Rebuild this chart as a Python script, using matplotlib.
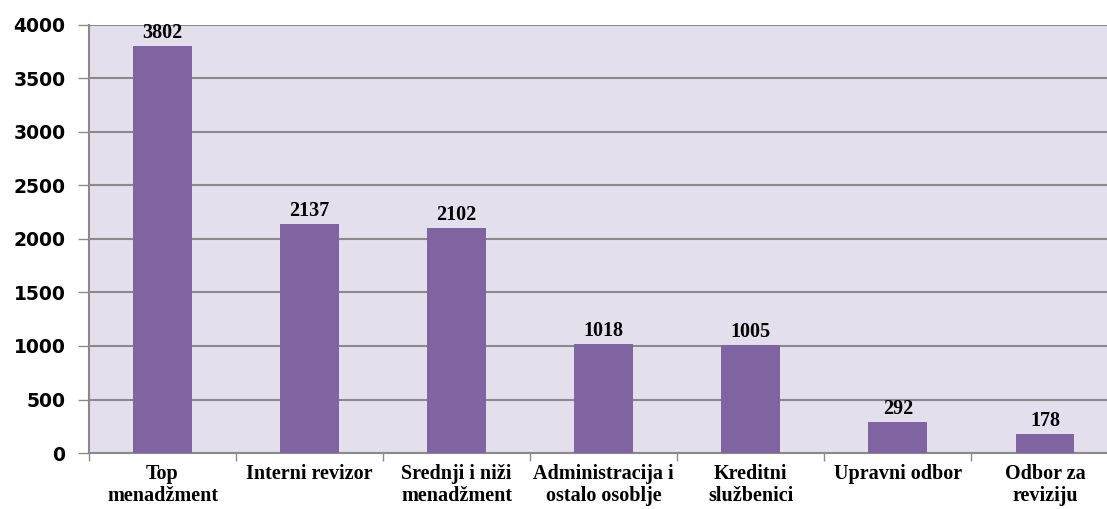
import numpy as np
from matplotlib import pyplot as plt

categories = ['Top\nmenadžment', 'Interni revizor', 'Srednji i niži\nmenadžment',
              'Administracija i\nostalo osoblje', 'Kreditni\nslužbenici',
              'Upravni odbor', 'Odbor za\nreviziju']
values = [3802, 2137, 2102, 1018, 1005, 292, 178]
yticks = [0, 500, 1000, 1500, 2000, 2500, 3000, 3500, 4000]

fig = plt.figure(figsize=(11.07, 5.09), dpi=100)
# plot area runs slightly past the right edge of the picture, as in the original
ax = fig.add_axes([0.0804, 0.110, 0.930, 0.841])
ax.set_facecolor('#E4DFEC')

index = np.arange(len(categories))
ax.bar(index, values, width=0.40, color='#8064A2', zorder=3)
for x, y in zip(index, values):
    ax.text(x, y + 30, str(y), ha='center', va='bottom', fontsize=14.5,
            fontweight='bold', family='Liberation Serif', zorder=4)

ax.set_xlim(-0.5, len(categories) - 0.5)
ax.set_ylim(0, 4000)
ax.set_yticks(yticks)
ax.set_yticklabels([str(t) for t in yticks], fontsize=13.5, fontweight='bold',
                   family='DejaVu Sans')
ax.yaxis.grid(True, color='#8A8A8A', linewidth=1.5, zorder=1)

ax.set_xticks(index)
ax.set_xticklabels(categories, fontsize=14.5, fontweight='bold',
                   family='Liberation Serif', linespacing=1.15)
ax.tick_params(axis='x', length=0, pad=8)
ax.set_xticks(np.arange(len(categories) + 1) - 0.5, minor=True)
ax.tick_params(axis='x', which='minor', length=6, color='#8A8A8A', width=1)
ax.tick_params(axis='y', length=8, color='#8A8A8A', width=1, pad=9)

for s in ['top', 'right']:
    ax.spines[s].set_visible(False)
for s in ['left', 'bottom']:
    ax.spines[s].set_color('#8A8A8A')
    ax.spines[s].set_linewidth(1.5)

fig.savefig('out.png', dpi=100)
